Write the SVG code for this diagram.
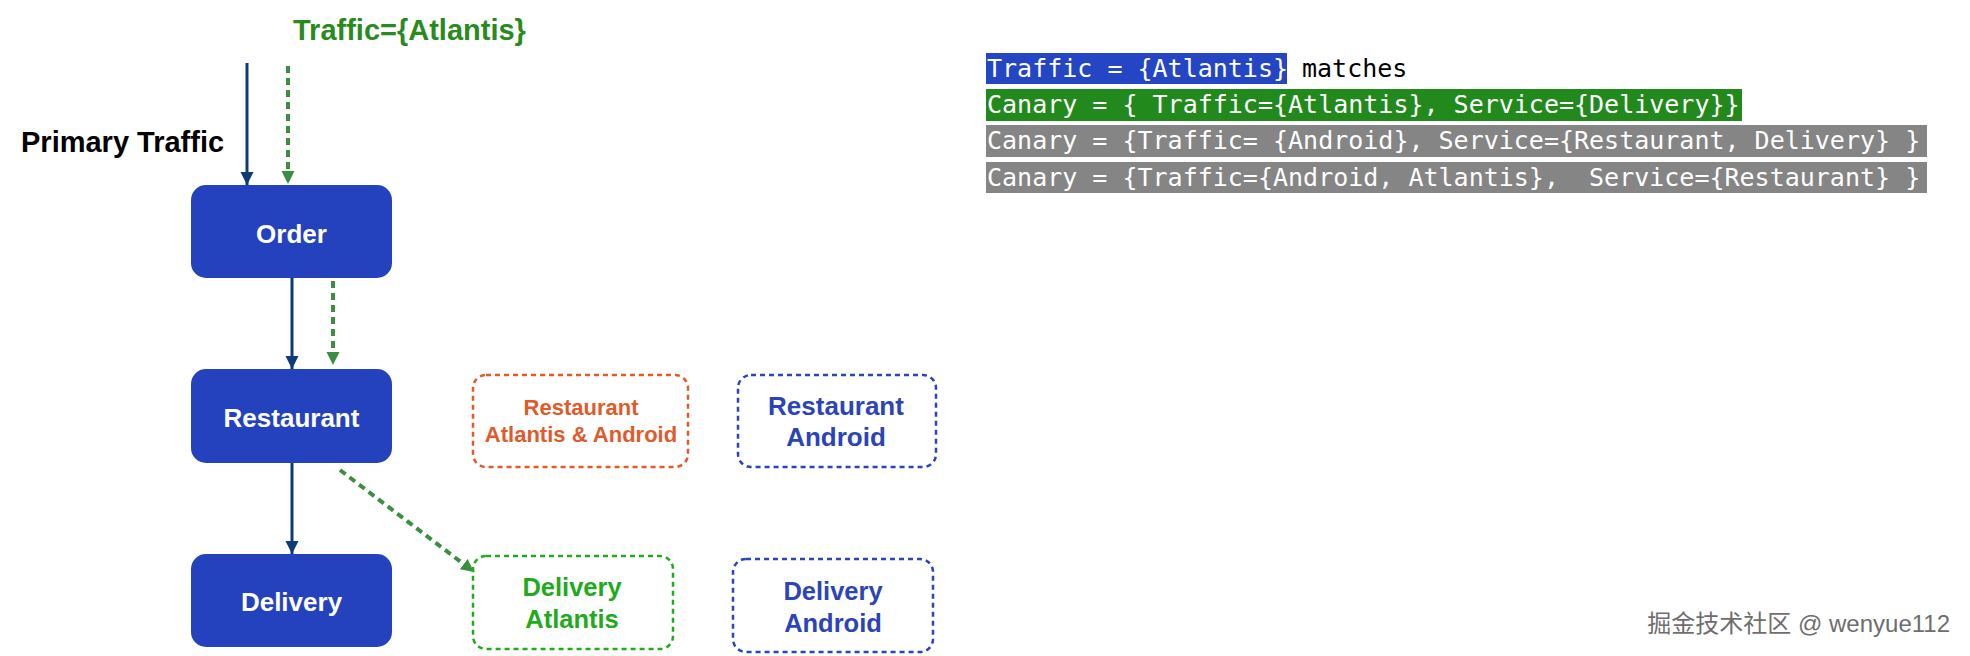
<svg xmlns="http://www.w3.org/2000/svg" width="1970" height="656" viewBox="0 0 1970 656">
<style>
.node rect{fill:#2442be;}
.node text{font-family:"Liberation Sans",Arial,sans-serif;font-weight:bold;font-size:26px;fill:#ffffff;text-anchor:middle;}
.box rect{fill:none;stroke-width:2.5;stroke-dasharray:5 4;}
.box text{font-family:"Liberation Sans",Arial,sans-serif;font-weight:bold;text-anchor:middle;}
.navy{stroke:#0d3a78;stroke-width:3;fill:none;}
.green{stroke:#3a9040;stroke-width:4;fill:none;stroke-dasharray:7 5;}
.lbl{font-family:"Liberation Sans",Arial,sans-serif;font-weight:bold;font-size:29px;}
.mono{font-family:"DejaVu Sans Mono","Liberation Mono",monospace;font-size:25px;white-space:pre;}
</style>
<defs>
<marker id="ahNavy" markerUnits="userSpaceOnUse" markerWidth="14" markerHeight="14" refX="13" refY="7" orient="auto">
<path d="M0,0.5 L13,7 L0,13.5 z" fill="#0d3a78"/>
</marker>
<marker id="ahGreen" markerUnits="userSpaceOnUse" markerWidth="14" markerHeight="14" refX="13" refY="7" orient="auto">
<path d="M0,0.5 L13,7 L0,13.5 z" fill="#3a9040"/>
</marker>
</defs>
<rect width="1970" height="656" fill="#ffffff"/>

<g id="labels">
<text class="lbl" x="293" y="40" fill="#2a8a1f">Traffic={Atlantis}</text>
<text class="lbl" x="21" y="152" fill="#000000">Primary Traffic</text>
</g>

<g id="connectors">
<line class="navy" x1="247" y1="63" x2="247" y2="185" marker-end="url(#ahNavy)"/>
<line class="green" x1="288" y1="66" x2="288" y2="184" marker-end="url(#ahGreen)"/>
<line class="navy" x1="292" y1="278" x2="292" y2="369" marker-end="url(#ahNavy)"/>
<line class="green" x1="333" y1="281" x2="333" y2="365" marker-end="url(#ahGreen)"/>
<line class="navy" x1="292" y1="463" x2="292" y2="554" marker-end="url(#ahNavy)"/>
<line class="green" x1="340" y1="470" x2="474" y2="572" marker-end="url(#ahGreen)"/>
</g>

<g id="order" class="node">
<rect x="191" y="185" width="201" height="93" rx="15"/>
<text x="291.5" y="243">Order</text>
</g>
<g id="restaurant" class="node">
<rect x="191" y="369" width="201" height="94" rx="15"/>
<text x="291.5" y="427">Restaurant</text>
</g>
<g id="delivery" class="node">
<rect x="191" y="554" width="201" height="93" rx="15"/>
<text x="291.5" y="611">Delivery</text>
</g>

<g id="restaurant-atlantis-android" class="box">
<rect x="473" y="375" width="215" height="92" rx="13" stroke="#e05a2b"/>
<text x="581" y="415" font-size="22" fill="#e05a2b">Restaurant</text>
<text x="581" y="442" font-size="22" fill="#e05a2b">Atlantis &amp; Android</text>
</g>
<g id="restaurant-android" class="box">
<rect x="738" y="375" width="198" height="92" rx="13" stroke="#2b44b8"/>
<text x="836" y="415" font-size="26" fill="#2b44b8">Restaurant</text>
<text x="836" y="446" font-size="26" fill="#2b44b8">Android</text>
</g>
<g id="delivery-atlantis" class="box">
<rect x="473" y="556" width="200" height="93" rx="13" stroke="#22aa1e"/>
<text x="572" y="596" font-size="25.5" fill="#22aa1e">Delivery</text>
<text x="572" y="628" font-size="25.5" fill="#22aa1e">Atlantis</text>
</g>
<g id="delivery-android" class="box">
<rect x="733" y="559" width="200" height="93" rx="13" stroke="#2b44b8"/>
<text x="833" y="600" font-size="25.5" fill="#2b44b8">Delivery</text>
<text x="833" y="632" font-size="25.5" fill="#2b44b8">Android</text>
</g>

<g id="rules">
<rect x="986" y="53" width="301" height="31" fill="#2445c4"/>
<rect x="986" y="89" width="756" height="32" fill="#228a1c"/>
<rect x="986" y="125" width="941" height="32" fill="#858585"/>
<rect x="986" y="162" width="941" height="31" fill="#858585"/>
<text class="mono" x="987" y="77" fill="#ffffff" xml:space="preserve">Traffic = {Atlantis}</text>
<text class="mono" x="1302" y="77" fill="#000000">matches</text>
<text class="mono" x="987" y="113" fill="#ffffff" xml:space="preserve">Canary = { Traffic={Atlantis}, Service={Delivery}}</text>
<text class="mono" x="987" y="149" fill="#ffffff" xml:space="preserve">Canary = {Traffic= {Android}, Service={Restaurant, Delivery} }</text>
<text class="mono" x="987" y="186" fill="#ffffff" xml:space="preserve">Canary = {Traffic={Android, Atlantis},  Service={Restaurant} }</text>
</g>

<g id="watermark">
<text x="1950" y="632" font-family="'Liberation Sans','Noto Sans CJK SC',sans-serif" font-size="24" fill="#6e6e6e" text-anchor="end">掘金技术社区 @ wenyue112</text>
</g>
</svg>
